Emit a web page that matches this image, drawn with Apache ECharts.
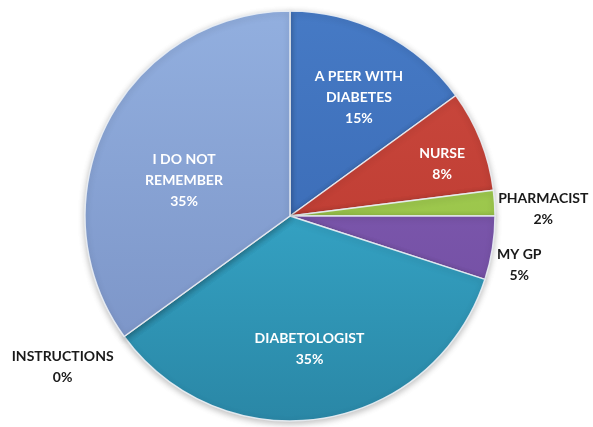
<!DOCTYPE html>
<html>
<head>
<meta charset="utf-8">
<script src="https://cdn.jsdelivr.net/npm/echarts@6/dist/echarts.min.js"></script>
<style>
  html, body { margin: 0; padding: 0; background: #ffffff; }
  #main { width: 593px; height: 427px; }
</style>
</head>
<body>
<div id="main"></div>
<script>
// slices, clockwise from 12 o'clock
var names = ['A PEER WITH\nDIABETES', 'NURSE', 'PHARMACIST', 'MY GP', 'DIABETOLOGIST', 'INSTRUCTIONS', 'I DO NOT\nREMEMBER'];
var values = [15, 8, 2, 5, 35, 0, 35];

// top / bottom shades of each slice
var topColors = ['#467ac5', '#cc4a3f', '#a9d25a', '#8560b6', '#3ebbde', '#7e8cb8', '#92afdf'];
var bottomColors = ['#3463ad', '#b5342b', '#8fbb3e', '#6e4a9e', '#2a87a6', '#6a78a4', '#7890c3'];
var insideLabel = [true, true, false, false, true, false, true];

// label nudges from the default inside spot
var labelShift = [[21, -25], [54, -13], [148, 0], [125, 32], [3, 29], [-142, 89], [-12, 12]];

var chart = echarts.init(document.getElementById('main'));

var data = names.map(function (n, i) {
  return {
    name: n,
    value: values[i],
    itemStyle: {
      color: {
        type: 'linear', x: 0, y: 11, x2: 0, y2: 421, global: true,
        colorStops: [{ offset: 0, color: topColors[i] }, { offset: 1, color: bottomColors[i] }]
      }
    },
    label: { color: insideLabel[i] ? '#ffffff' : '#1a1a1a' }
  };
});

var option = {
  backgroundColor: '#ffffff',
  series: [{
    type: 'pie',
    center: [290, 216],
    radius: 205,
    startAngle: 90,
    clockwise: true,
    avoidLabelOverlap: false,
    itemStyle: {
      borderColor: 'rgba(235,240,245,0.9)',
      borderWidth: 1.5,
      shadowBlur: 6,
      shadowColor: 'rgba(0,0,0,0.25)',
      shadowOffsetY: 2
    },
    label: {
      show: true,
      position: 'inside',
      formatter: '{b}\n{c}%',
      fontFamily: 'Lato',
      fontWeight: 'bold',
      fontSize: 14,
      lineHeight: 21,
      align: 'center'
    },
    labelLine: { show: false },
    labelLayout: function (params) {
      var s = labelShift[params.dataIndex];
      return { dx: s[0], dy: s[1] };
    },
    emphasis: { disabled: true },
    data: data
  }]
};

chart.setOption(option);
</script>
</body>
</html>
